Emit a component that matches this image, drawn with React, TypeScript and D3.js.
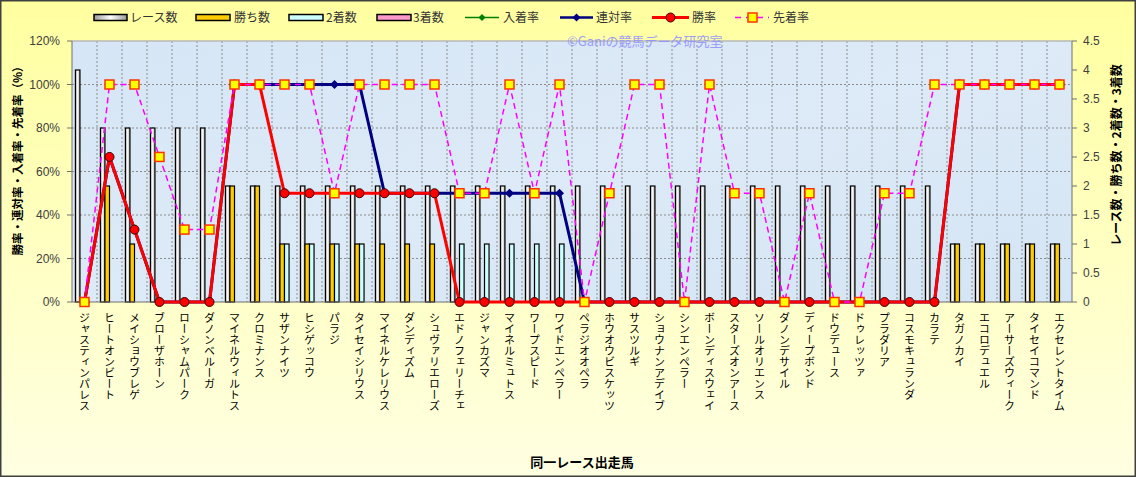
import React from "react";
import * as d3 from "d3";

const horses = [
  "ジャスティンパレス", "ヒートオンビート", "メイショウブレゲ", "ブローザホーン", "ローシャムパーク",
  "ダノンベルーガ", "マイネルウィルトス", "クロミナンス", "サザンナイツ", "ヒシゲッコウ",
  "パラジ", "タイセイシリウス", "マイネルケレリウス", "ダンディズム", "シュヴァリエローズ",
  "エドノフェリーチェ", "ジャンカズマ", "マイネルミュトス", "ワープスピード", "ワイドエンペラー",
  "ペラジオオペラ", "ホウオウビスケッツ", "サスツルギ", "ショウナンアデイブ", "シンエンペラー",
  "ボーンディスウェイ", "スターズオンアース", "ソールオリエンス", "ダノンデサイル", "ディープボンド",
  "ドウデュース", "ドゥレッツァ", "プラダリア", "コスモキュランダ", "カラテ",
  "タガノカイ", "エコロデュエル", "アーサーズウィーク", "タイセイコマンド", "エクセレントタイム",
];

const raceCount = [4, 3, 3, 3, 3, 3, 2, 2, 2, 2, 2, 2, 2, 2, 2, 2, 2, 2, 2, 2, 2, 2, 2, 2, 2, 2, 2, 2, 2, 2, 2, 2, 2, 2, 2, 1, 1, 1, 1, 1];
const winCount = [0, 2, 1, 0, 0, 0, 2, 2, 1, 1, 1, 1, 1, 1, 1, 0, 0, 0, 0, 0, 0, 0, 0, 0, 0, 0, 0, 0, 0, 0, 0, 0, 0, 0, 0, 1, 1, 1, 1, 1];
const secondCount = [0, 0, 0, 0, 0, 0, 0, 0, 1, 1, 1, 1, 0, 0, 0, 1, 1, 1, 1, 1, 0, 0, 0, 0, 0, 0, 0, 0, 0, 0, 0, 0, 0, 0, 0, 0, 0, 0, 0, 0];
const thirdCount = [0, 0, 0, 0, 0, 0, 0, 0, 0, 0, 0, 0, 0, 0, 0, 0, 0, 0, 0, 0, 0, 0, 0, 0, 0, 0, 0, 0, 0, 0, 0, 0, 0, 0, 0, 0, 0, 0, 0, 0];

const nyuchakuRate = [0, 66.7, 33.3, 0, 0, 0, 100, 100, 100, 100, 100, 100, 50, 50, 50, 50, 50, 50, 50, 50, 0, 0, 0, 0, 0, 0, 0, 0, 0, 0, 0, 0, 0, 0, 0, 100, 100, 100, 100, 100];
const rentaiRate = [0, 66.7, 33.3, 0, 0, 0, 100, 100, 100, 100, 100, 100, 50, 50, 50, 50, 50, 50, 50, 50, 0, 0, 0, 0, 0, 0, 0, 0, 0, 0, 0, 0, 0, 0, 0, 100, 100, 100, 100, 100];
const winRate = [0, 66.7, 33.3, 0, 0, 0, 100, 100, 50, 50, 50, 50, 50, 50, 50, 0, 0, 0, 0, 0, 0, 0, 0, 0, 0, 0, 0, 0, 0, 0, 0, 0, 0, 0, 0, 100, 100, 100, 100, 100];
const senchakuRate = [0, 100, 100, 66.7, 33.3, 33.3, 100, 100, 100, 100, 50, 100, 100, 100, 100, 50, 50, 100, 50, 100, 0, 50, 100, 100, 0, 100, 50, 50, 0, 50, 0, 0, 50, 50, 100, 100, 100, 100, 100, 100];

const leftTicks = [0, 20, 40, 60, 80, 100, 120];
const rightTicks = [0, 0.5, 1, 1.5, 2, 2.5, 3, 3.5, 4, 4.5];

const W = 1136;
const H = 477;
const PL = 72, PR = 1072, PT = 41, PB = 302;
const JP = "'Noto Sans CJK JP', 'Noto Sans', sans-serif";
const NUM = "'Liberation Sans', Arial, sans-serif";

export default function App() {
  const x = d3.scaleBand<string>().domain(horses).range([PL, PR]).padding(0);
  const bw = x.bandwidth();
  const barW = bw / 5.5;
  const off = (bw - 4 * barW) / 2;
  const sub = d3.scaleBand<string>().domain(["race", "win", "second", "third"]).range([off, off + 4 * barW]).padding(0);
  const yL = d3.scaleLinear().domain([0, 120]).range([PB, PT]);
  const yR = d3.scaleLinear().domain([0, 4.5]).range([PB, PT]);
  const cx = (i: number) => (x(horses[i]) as number) + bw / 2;

  const barSeries = [
    { key: "race", vals: raceCount, fill: "url(#raceGrad)" },
    { key: "win", vals: winCount, fill: "#FFCC00" },
    { key: "second", vals: secondCount, fill: "#CCFFFF" },
    { key: "third", vals: thirdCount, fill: "#FF99CC" },
  ];

  const line = (vals: number[]) =>
    d3.line<number>().x((_, i) => cx(i)).y((v) => yL(v))(vals) as string;

  const diamond = (px: number, py: number, r: number) =>
    `M${px},${py - r}L${px + r},${py}L${px},${py + r}L${px - r},${py}Z`;

  const legendY = 17.5;

  return (
    <div style={{ position: "absolute", left: 0, top: 0 }}>
      <svg width={W} height={H} style={{ display: "block" }}>
        <defs>
          <linearGradient id="bgGrad" x1="0" y1="0" x2="0" y2="1">
            <stop offset="0%" stopColor="#FFFFA0" />
            <stop offset="100%" stopColor="#FFFFE2" />
          </linearGradient>
          <linearGradient id="raceGrad" x1="0" y1="0" x2="1" y2="0">
            <stop offset="0%" stopColor="#9a9a9a" />
            <stop offset="50%" stopColor="#ffffff" />
            <stop offset="100%" stopColor="#9a9a9a" />
          </linearGradient>
          <linearGradient id="plotGrad" x1="0" y1="0" x2="1" y2="1">
            <stop offset="0%" stopColor="#D6E6F6" />
            <stop offset="50%" stopColor="#DDEAF7" />
            <stop offset="100%" stopColor="#D4E5F5" />
          </linearGradient>
        </defs>
        <rect x={0.75} y={0.75} width={W - 1.5} height={H - 1.5} fill="url(#bgGrad)" stroke="#404040" strokeWidth={1.5} />

        {/* plot area */}
        <rect x={PL} y={PT} width={PR - PL} height={PB - PT} fill="url(#plotGrad)" />
        {/* gridlines */}
        {leftTicks.filter((t) => t > 0 && t < 120).map((t) => (
          <line key={"hg" + t} x1={PL} x2={PR} y1={yL(t)} y2={yL(t)} stroke="#8c8c8c" strokeWidth={1} strokeDasharray="2,2" />
        ))}
        {horses.slice(1).map((h) => (
          <line key={"vg" + h} x1={x(h) as number} x2={x(h) as number} y1={PT} y2={PB} stroke="#8c8c8c" strokeWidth={1} strokeDasharray="2,2" />
        ))}
        <line x1={PL} x2={PR} y1={PT} y2={PT} stroke="#b8b8b8" strokeWidth={1.5} />

        {/* bars */}
        {barSeries.map((s) =>
          s.vals.map((v, i) =>
            v > 0 ? (
              <rect
                key={s.key + i}
                x={(x(horses[i]) as number) + (sub(s.key) as number)}
                y={yR(v)}
                width={barW}
                height={yR(0) - yR(v)}
                fill={s.fill}
                stroke="#000"
                strokeWidth={1.2}
              />
            ) : null
          )
        )}

        {/* axes */}
        <line x1={PL} x2={PL} y1={PT} y2={PB} stroke="#707070" strokeWidth={1} />
        <line x1={PR} x2={PR} y1={PT} y2={PB} stroke="#707070" strokeWidth={1} />
        <line x1={PL} x2={PR} y1={PB} y2={PB} stroke="#707070" strokeWidth={1} />
        {leftTicks.map((t) => (
          <g key={"lt" + t}>
            <line x1={PL - 5} x2={PL} y1={yL(t)} y2={yL(t)} stroke="#707070" />
            <text x={PL - 12} y={yL(t) + 4} textAnchor="end" fontFamily={NUM} fontSize={12} fill="#404040">{t + "%"}</text>
          </g>
        ))}
        {rightTicks.map((t) => (
          <g key={"rt" + t}>
            <line x1={PR} x2={PR + 5} y1={yR(t)} y2={yR(t)} stroke="#707070" />
            <text x={PR + 11} y={yR(t) + 4} textAnchor="start" fontFamily={NUM} fontSize={12} fill="#404040">{String(t)}</text>
          </g>
        ))}

        {/* lines */}
        <path d={line(nyuchakuRate)} fill="none" stroke="#008000" strokeWidth={1.5} />
        {nyuchakuRate.map((v, i) => (
          <path key={"nm" + i} d={diamond(cx(i), yL(v), 3.5)} fill="#008000" />
        ))}
        <path d={line(rentaiRate)} fill="none" stroke="#000080" strokeWidth={3} />
        {rentaiRate.map((v, i) => (
          <path key={"rm" + i} d={diamond(cx(i), yL(v), 4.5)} fill="#000080" />
        ))}
        <path d={line(winRate)} fill="none" stroke="#FF0000" strokeWidth={3} />
        {winRate.map((v, i) => (
          <circle key={"wm" + i} cx={cx(i)} cy={yL(v)} r={4.5} fill="#FF0000" stroke="#400000" strokeWidth={1} />
        ))}
        <path d={line(senchakuRate)} fill="none" stroke="#FF00FF" strokeWidth={1.5} strokeDasharray="6,4" />
        {senchakuRate.map((v, i) => (
          <rect key={"sm" + i} x={cx(i) - 4.5} y={yL(v) - 4.5} width={9} height={9} fill="#FFFF00" stroke="#FF3300" strokeWidth={1.5} />
        ))}

        {/* watermark */}
        <text x={567} y={46} fontFamily={JP} fontSize={13} fill="#8f8fff" opacity={0.85}>©Ganiの競馬データ研究室</text>

        {/* x labels */}
        {horses.map((h, i) => (
          <text
            key={"xl" + h}
            x={cx(i)}
            y={312}
            fontFamily={JP}
            fontSize={11}
            fill="#000"
            style={{ writingMode: "vertical-rl" as any }}
          >
            {h}
          </text>
        ))}

        {/* axis titles */}
        <text x={582} y={467} textAnchor="middle" fontFamily={JP} fontSize={13} fontWeight="bold" fill="#000">同一レース出走馬</text>
        <text transform="translate(22,158) rotate(-90)" textAnchor="middle" fontFamily={JP} fontSize={11.5} fontWeight="bold" fill="#000">勝率・連対率・入着率・先着率（%）</text>
        <text transform="translate(1121,155) rotate(-90)" textAnchor="middle" fontFamily={JP} fontSize={12} fontWeight="bold" fill="#000">レース数・勝ち数・2着数・3着数</text>

        {/* legend */}
        <g fontFamily={JP} fontSize={12} fill="#333">
          <rect x={94} y={legendY - 3} width={33} height={6} fill="url(#raceGrad)" stroke="#000" strokeWidth={1.5} />
          <text x={130} y={legendY + 4.5}>レース数</text>
          <rect x={196} y={legendY - 3} width={34} height={6} fill="#FFCC00" stroke="#000" strokeWidth={1.5} />
          <text x={234} y={legendY + 4.5}>勝ち数</text>
          <rect x={289} y={legendY - 3} width={34} height={6} fill="#CCFFFF" stroke="#000" strokeWidth={1.5} />
          <text x={326} y={legendY + 4.5}>2着数</text>
          <rect x={377} y={legendY - 3} width={34} height={6} fill="#FF99CC" stroke="#000" strokeWidth={1.5} />
          <text x={413} y={legendY + 4.5}>3着数</text>
          <line x1={465} x2={499} y1={legendY} y2={legendY} stroke="#008000" strokeWidth={1.5} />
          <path d={diamond(482, legendY, 3.5)} fill="#008000" />
          <text x={503} y={legendY + 4.5}>入着率</text>
          <line x1={560} x2={593} y1={legendY} y2={legendY} stroke="#000080" strokeWidth={2.5} />
          <path d={diamond(576.5, legendY, 4)} fill="#000080" />
          <text x={596} y={legendY + 4.5}>連対率</text>
          <line x1={652} x2={689} y1={legendY} y2={legendY} stroke="#FF0000" strokeWidth={3} />
          <circle cx={670.5} cy={legendY} r={4.5} fill="#FF0000" stroke="#400000" strokeWidth={1} />
          <text x={692} y={legendY + 4.5}>勝率</text>
          <line x1={735} x2={769} y1={legendY} y2={legendY} stroke="#FF00FF" strokeWidth={1.5} strokeDasharray="6,5" />
          <rect x={748} y={legendY - 4.5} width={9} height={9} fill="#FFFF00" stroke="#FF3300" strokeWidth={1.5} />
          <text x={773} y={legendY + 4.5}>先着率</text>
        </g>
      </svg>
    </div>
  );
}
